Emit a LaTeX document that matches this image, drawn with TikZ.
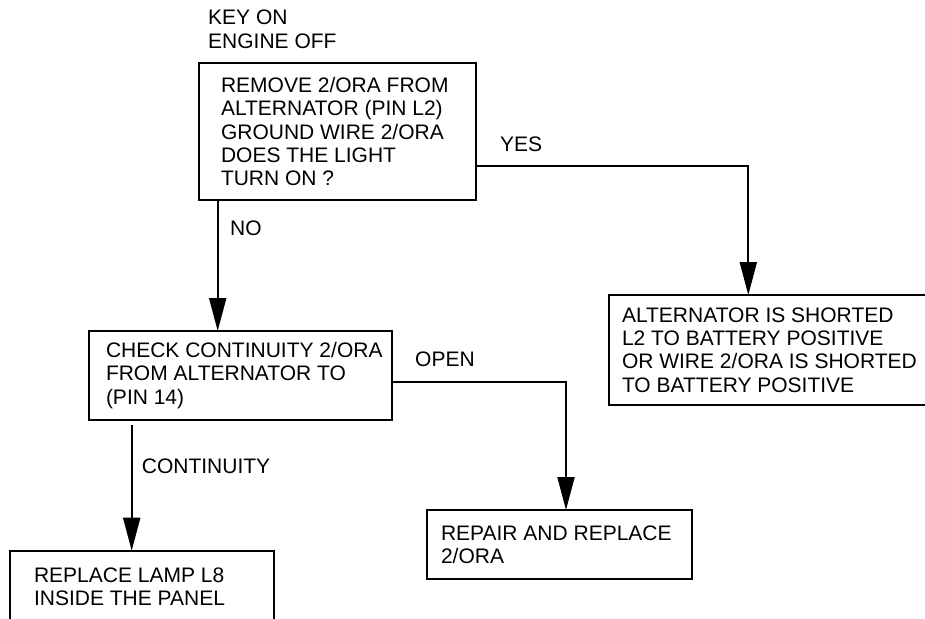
\documentclass[tikz,border=0pt]{standalone}
\usepackage{fontspec}
\setmainfont{Liberation Sans}
\usetikzlibrary{arrows.meta}
\tikzset{bloc/.style={draw,line width=2pt,anchor=north west,outer sep=0pt,inner ysep=0pt,align=flush left,font=\fontsize{21}{23.3}\selectfont},flux/.style={-{Triangle[length=33pt,width=17pt]},line width=2pt},note/.style={anchor=base west,inner sep=0pt,font=\fontsize{21}{23.3}\selectfont}}

\begin{document}
\begin{tikzpicture}[x=1pt,y=-1pt]
\useasboundingbox (0,0) rectangle (925,618);
\node[note,anchor=north west,align=left] (cond) at (208,10) {KEY ON\\ENGINE OFF};
\node[bloc,text width=232.7pt,inner xsep=22pt,minimum height=136.7pt] (q1) at (199,63.3) {\mbox{REMOVE 2/ORA FROM}\\\mbox{ALTERNATOR (PIN L2)}\\\mbox{GROUND WIRE 2/ORA}\\DOES THE LIGHT\\TURN ON ?};
\node[bloc,text width=269pt,inner xsep=16.7pt,minimum height=89pt] (q2) at (89.3,331) {\mbox{CHECK CONTINUITY 2/ORA}\\\mbox{FROM ALTERNATOR TO}\\(PIN 14)};
\node[bloc,text width=310pt,inner xsep=13pt,minimum height=110pt] (ryes) at (609,295) {\mbox{ALTERNATOR IS SHORTED}\\\mbox{L2 TO BATTERY POSITIVE}\\\mbox{OR WIRE 2/ORA IS SHORTED}\\\mbox{TO BATTERY POSITIVE}};
\node[bloc,text width=237pt,inner xsep=13.7pt,minimum height=69.3pt] (ropen) at (427.3,510) {\mbox{REPAIR AND REPLACE}\\2/ORA};
\node[bloc,text width=216pt,inner xsep=24pt,minimum height=72pt] (rcont) at (10,550.7) {\mbox{REPLACE LAMP L8}\\\mbox{INSIDE THE PANEL}};
% branches
\coordinate (yesbend) at (748.3,165.7);
\coordinate (nostart) at ([xshift=18.7pt]q1.south west);
\coordinate (openbend) at (566,382.3);
\coordinate (contstart) at (131.7,425);
\draw[flux] (q1.east |- yesbend) -- (yesbend) -- (yesbend |- ryes.north);
\draw[flux] (nostart) -- (nostart |- q2.north);
\draw[flux] (q2.east |- openbend) -- (openbend) -- (openbend |- ropen.north);
\draw[flux] (contstart) -- (contstart |- rcont.north);
\node[note] (yes) at (500,151.7) {YES};
\node[note] (no) at (230,235) {NO};
\node[note] (open) at (415,366.7) {OPEN};
\node[note] (cont) at (141.7,473.3) {CONTINUITY};
\end{tikzpicture}
\end{document}
